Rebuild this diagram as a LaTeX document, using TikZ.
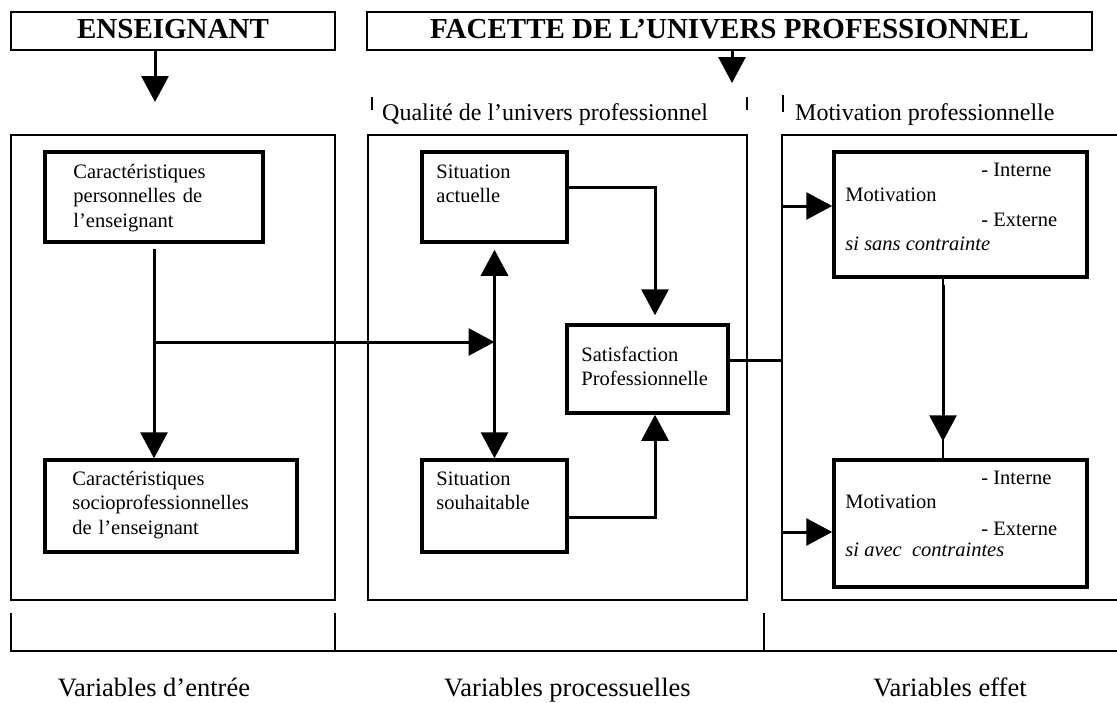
\documentclass[tikz,border=0pt]{standalone}
\usepackage{fontspec}
\setmainfont{Liberation Serif}
\usetikzlibrary{arrows.meta}
\begin{document}
\begin{tikzpicture}[x=1pt,y=-1pt,
  hdr/.style={draw,line width=2pt,inner sep=0pt,text height=19pt,text depth=5pt,
    font=\fontsize{29}{34}\selectfont\bfseries},
  panel/.style={draw,line width=1.4pt,inner sep=0pt},
  box/.style={draw,line width=3.5pt,inner sep=0pt},
  boxtext/.style={anchor=base west,inner sep=0pt,text width=230pt,align=left,
    font=\fontsize{20.5}{24.5}\selectfont},
  linetext/.style={anchor=base west,inner sep=0pt,font=\fontsize{20.5}{24.5}\selectfont},
  conditiontext/.style={anchor=base west,inner sep=0pt,font=\fontsize{20.5}{24.5}\selectfont\itshape},
  headtext/.style={anchor=base west,inner sep=0pt,font=\fontsize{24}{28}\selectfont},
  foottext/.style={anchor=base,inner sep=0pt,font=\fontsize{26.5}{30}\selectfont},
  thinline/.style={line width=1.4pt},
  conn/.style={line width=3pt},
  arr/.style={conn,-{Triangle[length=26pt,width=27pt]}},
  dblarr/.style={conn,{Triangle[length=26pt,width=27pt]}-{Triangle[length=26pt,width=27pt]}}
]
\useasboundingbox[fill=white] (0,0) rectangle (1117,702);

% headings
\node[hdr,minimum width=324pt,minimum height=38pt] (H1) at (173,31) {ENSEIGNANT};
\node[hdr,minimum width=725pt,minimum height=38pt] (H2) at (729.5,31) {FACETTE DE L’UNIVERS PROFESSIONNEL};
\coordinate (e1) at (155,102);
\coordinate (e2) at (732,83);
\draw[arr] (H1.south -| e1) -- (e1);
\draw[arr] (H2.south -| e2) -- (e2);

% column titles with their small marks
\node[headtext] (q) at (382,120) {Qualité de l’univers professionnel};
\node[headtext] (m) at (795,120) {Motivation professionnelle};
\draw[thinline] (372,97) -- (372,110);
\draw[thinline] (747,97) -- (747,110);
\draw[thinline] (783,95) -- (783,112);

% the three panels
\node[panel,minimum width=324pt,minimum height=465pt] (PL) at (173,367.5) {};
\node[panel,minimum width=379pt,minimum height=465pt] (PM) at (557.5,367.5) {};
\coordinate (Rw) at (782,135);
\draw[thinline] (1125,135) -- (Rw) -- (782,600) -- (1125,600);

% boxes
\node[box,minimum width=218pt,minimum height=90pt] (A) at (154,197) {};
\node[box,minimum width=252pt,minimum height=92pt] (B) at (171,506) {};
\node[box,minimum width=145pt,minimum height=90pt] (C) at (494.5,197) {};
\node[box,minimum width=145pt,minimum height=92pt] (D) at (494.5,506) {};
\node[box,minimum width=161pt,minimum height=88pt] (E) at (647.5,369) {};
\node[box,minimum width=253pt,minimum height=125pt] (F) at (960.5,214.5) {};
\node[box,minimum width=253pt,minimum height=127pt] (G) at (960.5,523.5) {};

% box texts
\node[boxtext] at ([shift={(30,28)}]A.north west) {Caractéristiques\\personnelles de\\l’enseignant};
\node[boxtext] at ([shift={(29,27)}]B.north west) {Caractéristiques\\socioprofessionnelles\\de l’enseignant};
\node[boxtext] at ([shift={(16,28)}]C.north west) {Situation\\actuelle};
\node[boxtext] at ([shift={(16,27)}]D.north west) {Situation\\souhaitable};
\node[boxtext] at ([shift={(16,38)}]E.north west) {Satisfaction\\Professionnelle};

\node[linetext] at ([shift={(149,26)}]F.north west) {- Interne};
\node[linetext] at ([shift={(13,51)}]F.north west) {Motivation};
\node[linetext] at ([shift={(149,76)}]F.north west) {- Externe};
\node[conditiontext] at ([shift={(13,100)}]F.north west) {si sans contrainte};

\node[linetext] at ([shift={(149,26)}]G.north west) {- Interne};
\node[linetext] at ([shift={(13,50)}]G.north west) {Motivation};
\node[linetext] at ([shift={(149,77)}]G.north west) {- Externe};
\node[conditiontext] at ([shift={(13,98)}]G.north west) {si avec\ \ contraintes};

% connectors
\draw[arr,shorten <=5pt] (A.south) -- (A.south |- B.north);
\coordinate (j) at (154,342);
\draw[arr] (j) -- (j -| C.south);
\draw[dblarr,shorten <=6pt] (C.south) -- (D.north);
\draw[arr,shorten >=8pt] ([yshift=10pt]C.east) -| ([xshift=7.5pt]E.north);
\draw[arr] ([yshift=-11pt]D.east) -| ([xshift=7.5pt]E.south);
\draw[conn] ([yshift=9pt]E.east) -- ([yshift=9pt]E.east -| Rw);
\draw[arr] ([yshift=8.5pt]F.west -| Rw) -- ([yshift=8.5pt]F.west);
\draw[arr] ([yshift=-8.5pt]G.west -| Rw) -- ([yshift=-8.5pt]G.west);
\draw[thinline] ([xshift=-17.5pt]F.south) -- ([xshift=-17.5pt]G.north);
\draw[arr,shorten <=6pt,shorten >=17pt] ([xshift=-17.5pt]F.south) -- ([xshift=-17.5pt]G.north);

% bottom bracket and variable names
\draw[thinline] (11,613) -- (11,651) -- (1117,651);
\draw[thinline] (335,613) -- (335,651);
\draw[thinline] (764,613) -- (764,651);
\node[foottext] (v1) at (154,696) {Variables d’entrée};
\node[foottext] (v2) at (567.5,696) {Variables processuelles};
\node[foottext] (v3) at (950,696) {Variables effet};
\end{tikzpicture}
\end{document}
